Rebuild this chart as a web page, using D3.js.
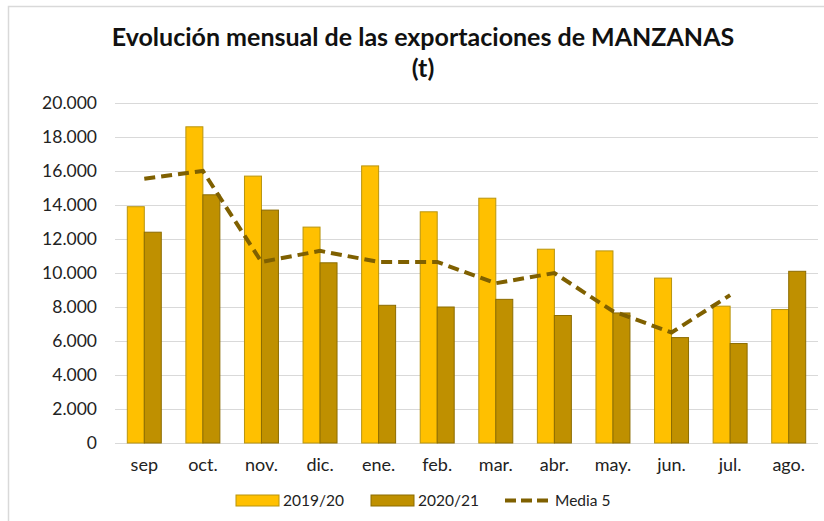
<!DOCTYPE html>
<html>
<head>
<meta charset="utf-8">
<script src="https://cdn.jsdelivr.net/npm/d3@7"></script>
<style>
  body { margin: 0; background: #fff; }
  svg { font-family: Lato, "Open Sans", sans-serif; }
</style>
</head>
<body>
<div id="chart"></div>
<script>
// data (t)
var months = ["sep", "oct.", "nov.", "dic.", "ene.", "feb.", "mar.", "abr.", "may.", "jun.", "jul.", "ago."];
var y1920 = [13900, 18600, 15700, 12700, 16300, 13600, 14400, 11400, 11300, 9700, 8050, 7850];
var y2021 = [12400, 14600, 13700, 10600, 8100, 8000, 8450, 7500, 7650, 6200, 5850, 10100];
var media5 = [15550, 16000, 10650, 11300, 10650, 10650, 9400, 10000, 7750, 6500, 8700, null];
var yTicks = [0, 2000, 4000, 6000, 8000, 10000, 12000, 14000, 16000, 18000, 20000];
var seriesNames = ["2019/20", "2020/21", "Media 5"];

var w = 824, h = 521;
var svg = d3.select("#chart").append("svg").attr("width", w).attr("height", h);

// chart border (only top and left edges show in the picture)
svg.append("path").attr("d", "M8.5,521V6.5H824")
   .attr("fill", "none").attr("stroke", "#d9d9d9").attr("stroke-width", 1.5);

var pLeft = 115, pRight = 818, pTop = 103, pBottom = 443;

var x = d3.scaleBand().domain(months).range([pLeft, pRight]).paddingInner(0.42).paddingOuter(0.21);
var xs = d3.scaleBand().domain([0, 1]).range([0, x.bandwidth()]);
var y = d3.scaleLinear().domain([0, 20000]).range([pBottom, pTop]);

var fmt = function(v) { return d3.format(",")(v).replace(/,/g, "."); };

// gridlines
svg.append("g").selectAll("line").data(yTicks).enter().append("line")
   .attr("x1", pLeft).attr("x2", pRight)
   .attr("y1", function(d) { return Math.round(y(d)) + 0.5; })
   .attr("y2", function(d) { return Math.round(y(d)) + 0.5; })
   .attr("stroke", "#d9d9d9").attr("stroke-width", 1);

// y axis labels
var yAxis = svg.append("g").attr("transform", "translate(97,0)")
   .call(d3.axisLeft(y).tickValues(yTicks).tickFormat(fmt).tickSize(0).tickPadding(0));
yAxis.select(".domain").remove();
yAxis.selectAll("text").attr("font-size", 17.5).attr("fill", "#222").attr("font-family", "Lato, sans-serif");

// x axis labels
var xAxis = svg.append("g").attr("transform", "translate(0," + pBottom + ")")
   .call(d3.axisBottom(x).tickSize(0).tickPadding(15));
xAxis.select(".domain").remove();
xAxis.selectAll("text").attr("font-size", 18).attr("fill", "#222").attr("font-family", "Lato, sans-serif");

// bars
var colors = ["#ffc000", "#bf9000"];
var strokes = ["#b8940f", "#8c6c00"];
[y1920, y2021].forEach(function(vals, k) {
  svg.append("g").selectAll("rect").data(vals).enter().append("rect")
     .attr("x", function(d, i) { return x(months[i]) + xs(k); })
     .attr("y", function(d) { return y(d); })
     .attr("width", xs.bandwidth())
     .attr("height", function(d) { return y(0) - y(d); })
     .attr("fill", colors[k]).attr("stroke", strokes[k]).attr("stroke-width", 1);
});

// Media 5 line
var line = d3.line()
   .defined(function(d) { return d != null; })
   .x(function(d, i) { return x(months[i]) + x.bandwidth() / 2; })
   .y(function(d) { return y(d); });
svg.append("path").datum(media5).attr("d", line)
   .attr("fill", "none").attr("stroke", "#7f6000").attr("stroke-width", 4)
   .attr("stroke-dasharray", "11,6");

// title
var title = svg.append("text").attr("text-anchor", "middle").attr("font-weight", "bold")
   .attr("font-size", 25).attr("fill", "#111");
title.append("tspan").attr("x", 423).attr("y", 46).text("Evolución mensual de las exportaciones de MANZANAS");
title.append("tspan").attr("x", 423).attr("y", 77).text("(t)");

// legend
var leg = svg.append("g").attr("font-size", 15.5).attr("fill", "#222");
var legX = [236, 371, 505];
[0, 1].forEach(function(k) {
  leg.append("rect").attr("x", legX[k]).attr("y", 495).attr("width", 43).attr("height", 11)
     .attr("fill", colors[k]).attr("stroke", strokes[k]);
  leg.append("text").attr("x", legX[k] + 47).attr("y", 506).text(seriesNames[k]);
});
leg.append("line").attr("x1", legX[2]).attr("x2", legX[2] + 45).attr("y1", 500.5).attr("y2", 500.5)
   .attr("stroke", "#7f6000").attr("stroke-width", 4).attr("stroke-dasharray", "11,5");
leg.append("text").attr("x", legX[2] + 50).attr("y", 506).text(seriesNames[2]);
</script>
</body>
</html>
